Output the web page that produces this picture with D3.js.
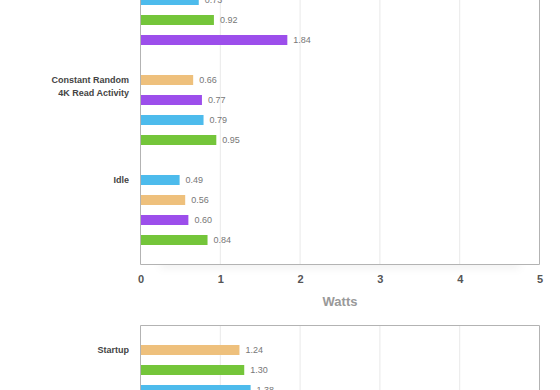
<!doctype html>
<html>

<head>
    <meta charset="utf-8">
    <title>Watts</title>
    <script type="text/javascript" src="https://cdnjs.cloudflare.com/ajax/libs/d3/7.8.5/d3.min.js"></script>
    <style type="text/css">
        html,
        body {
            margin: 0;
            padding: 0;
            background: #fff;
        }

        #chart svg {
            display: block;
            font-family: "Liberation Sans", Arial, Helvetica, sans-serif;
        }
    </style>
</head>

<body>
    <div id="chart"></div>

    <script type="text/javascript">
        // series keys and colours
        var seriesKeys = ["tan", "green", "blue", "purple"]
        var seriesColors = ["#eec07c", "#74c53a", "#4dbbec", "#9c4eeb"]

        // upper chart (top group is cut off by the frame)
        var topCategories = ["", "Constant Random\n4K Read Activity", "Idle"]
        var topSeries = [
            ["blue", "green", "purple"],
            ["tan", "purple", "blue", "green"],
            ["blue", "tan", "purple", "green"]
        ]
        var topValues = [
            [0.73, 0.92, 1.84],
            [0.66, 0.77, 0.79, 0.95],
            [0.49, 0.56, 0.60, 0.84]
        ]

        // lower chart (only its first group is visible)
        var bottomCategories = ["Startup"]
        var bottomSeries = [["tan", "green", "blue"]]
        var bottomValues = [[1.24, 1.30, 1.38]]

        var xTicks = [0, 1, 2, 3, 4, 5]
        var xTitle = "Watts"

        var width = 560,
            height = 390

        var svg = d3.select("#chart")
            .append("svg")
            .attr("width", width)
            .attr("height", height)

        var color = d3.scaleOrdinal().domain(seriesKeys).range(seriesColors)

        var x = d3.scaleLinear()
            .domain([0, 5])
            .range([140.5, 539.5])

        // soft shadow under the upper frame
        var defs = svg.append("defs")
        defs.append("filter")
            .attr("id", "blur")
            .attr("x", "-10%").attr("y", "-200%")
            .attr("width", "120%").attr("height", "500%")
            .append("feGaussianBlur")
            .attr("stdDeviation", 4)
        defs.append("clipPath")
            .attr("id", "belowFrame")
            .append("rect")
            .attr("x", 0).attr("y", 265)
            .attr("width", width).attr("height", 30)

        // flatten groups into rows with an empty slot between groups
        function rows(categories, series, values) {
            var out = []
            var slot = 0
            categories.forEach(function (cat, gi) {
                values[gi].forEach(function (v, i) {
                    out.push({
                        cat: cat,
                        first: i === 0,
                        key: series[gi][i],
                        value: v,
                        slot: slot
                    })
                    slot++
                })
                slot++
            })
            return out
        }

        function drawChart(categories, series, values, firstY, frameTop, frameBottom, showBottom) {
            var data = rows(categories, series, values)
            var g = svg.append("g")

            var y = d3.scaleLinear()
                .domain([0, 1])
                .range([firstY, firstY + 20])

            if (showBottom) {
                g.append("g")
                    .attr("clip-path", "url(#belowFrame)")
                    .append("rect")
                    .attr("x", x(0) + 20)
                    .attr("y", frameBottom - 4)
                    .attr("width", x(5) - x(0) - 40)
                    .attr("height", 7)
                    .attr("filter", "url(#blur)")
                    .style("fill", "#000")
                    .style("fill-opacity", 0.07)
            }

            // grid lines
            g.selectAll(".grid")
                .data(xTicks.slice(1, -1))
                .enter()
                .append("line")
                .attr("x1", function (d) { return x(d) })
                .attr("x2", function (d) { return x(d) })
                .attr("y1", frameTop)
                .attr("y2", frameBottom)
                .style("stroke", "#e9e9e9")
                .style("stroke-width", 1)

            // frame
            var path
            if (frameTop > 0) {
                path = "M" + x(0) + "," + frameBottom + "V" + frameTop + "H" + x(5) + "V" + frameBottom
            } else {
                path = "M" + x(0) + "," + frameTop + "V" + frameBottom + "H" + x(5) + "V" + frameTop
            }
            g.append("path")
                .attr("d", path)
                .style("fill", "none")
                .style("stroke", "#b3b3b3")
                .style("stroke-width", 1)

            // bars
            g.selectAll(".bar")
                .data(data)
                .enter()
                .append("rect")
                .attr("x", x(0) + 0.5)
                .attr("y", function (d) { return y(d.slot) - 5 })
                .attr("width", function (d) { return x(d.value) - x(0) - 0.5 })
                .attr("height", 10)
                .style("fill", function (d) { return color(d.key) })

            // value labels
            g.selectAll(".val")
                .data(data)
                .enter()
                .append("text")
                .attr("x", function (d) { return x(d.value) + 6 })
                .attr("y", function (d) { return y(d.slot) })
                .attr("dy", "0.35em")
                .style("font-size", "9px")
                .style("fill", "#777")
                .text(function (d) { return d3.format(".2f")(d.value) })

            // category labels
            var labels = g.selectAll(".cat")
                .data(data.filter(function (d) { return d.first && d.cat }))
                .enter()
                .append("text")
                .attr("y", function (d) { return y(d.slot) })
                .attr("text-anchor", "end")
                .style("font-size", "9px")
                .style("font-weight", "bold")
                .style("fill", "#444")
            labels.selectAll("tspan")
                .data(function (d) { return d.cat.split("\n") })
                .enter()
                .append("tspan")
                .attr("x", 129)
                .attr("dy", function (d, i) { return i === 0 ? "0.35em" : "13" })
                .text(function (d) { return d })

            if (showBottom) {
                var axis = d3.axisBottom(x)
                    .tickValues(xTicks)
                    .tickFormat(d3.format("d"))
                    .tickSize(0)
                    .tickPadding(11)
                var ax = g.append("g")
                    .attr("transform", "translate(0," + frameBottom + ")")
                    .call(axis)
                ax.select(".domain").remove()
                ax.selectAll("text")
                    .style("font-family", "\"Liberation Sans\", Arial, sans-serif")
                    .style("font-size", "11px")
                    .style("font-weight", "bold")
                    .style("fill", "#555")

                g.append("text")
                    .attr("x", (x(0) + x(5)) / 2)
                    .attr("y", frameBottom + 41)
                    .attr("text-anchor", "middle")
                    .style("font-size", "13px")
                    .style("font-weight", "bold")
                    .style("fill", "#999")
                    .text(xTitle)
            }
        }

        drawChart(topCategories, topSeries, topValues, 0, -30, 264.5, true)
        drawChart(bottomCategories, bottomSeries, bottomValues, 350, 325.5, 420, false)
    </script>
</body>

</html>
